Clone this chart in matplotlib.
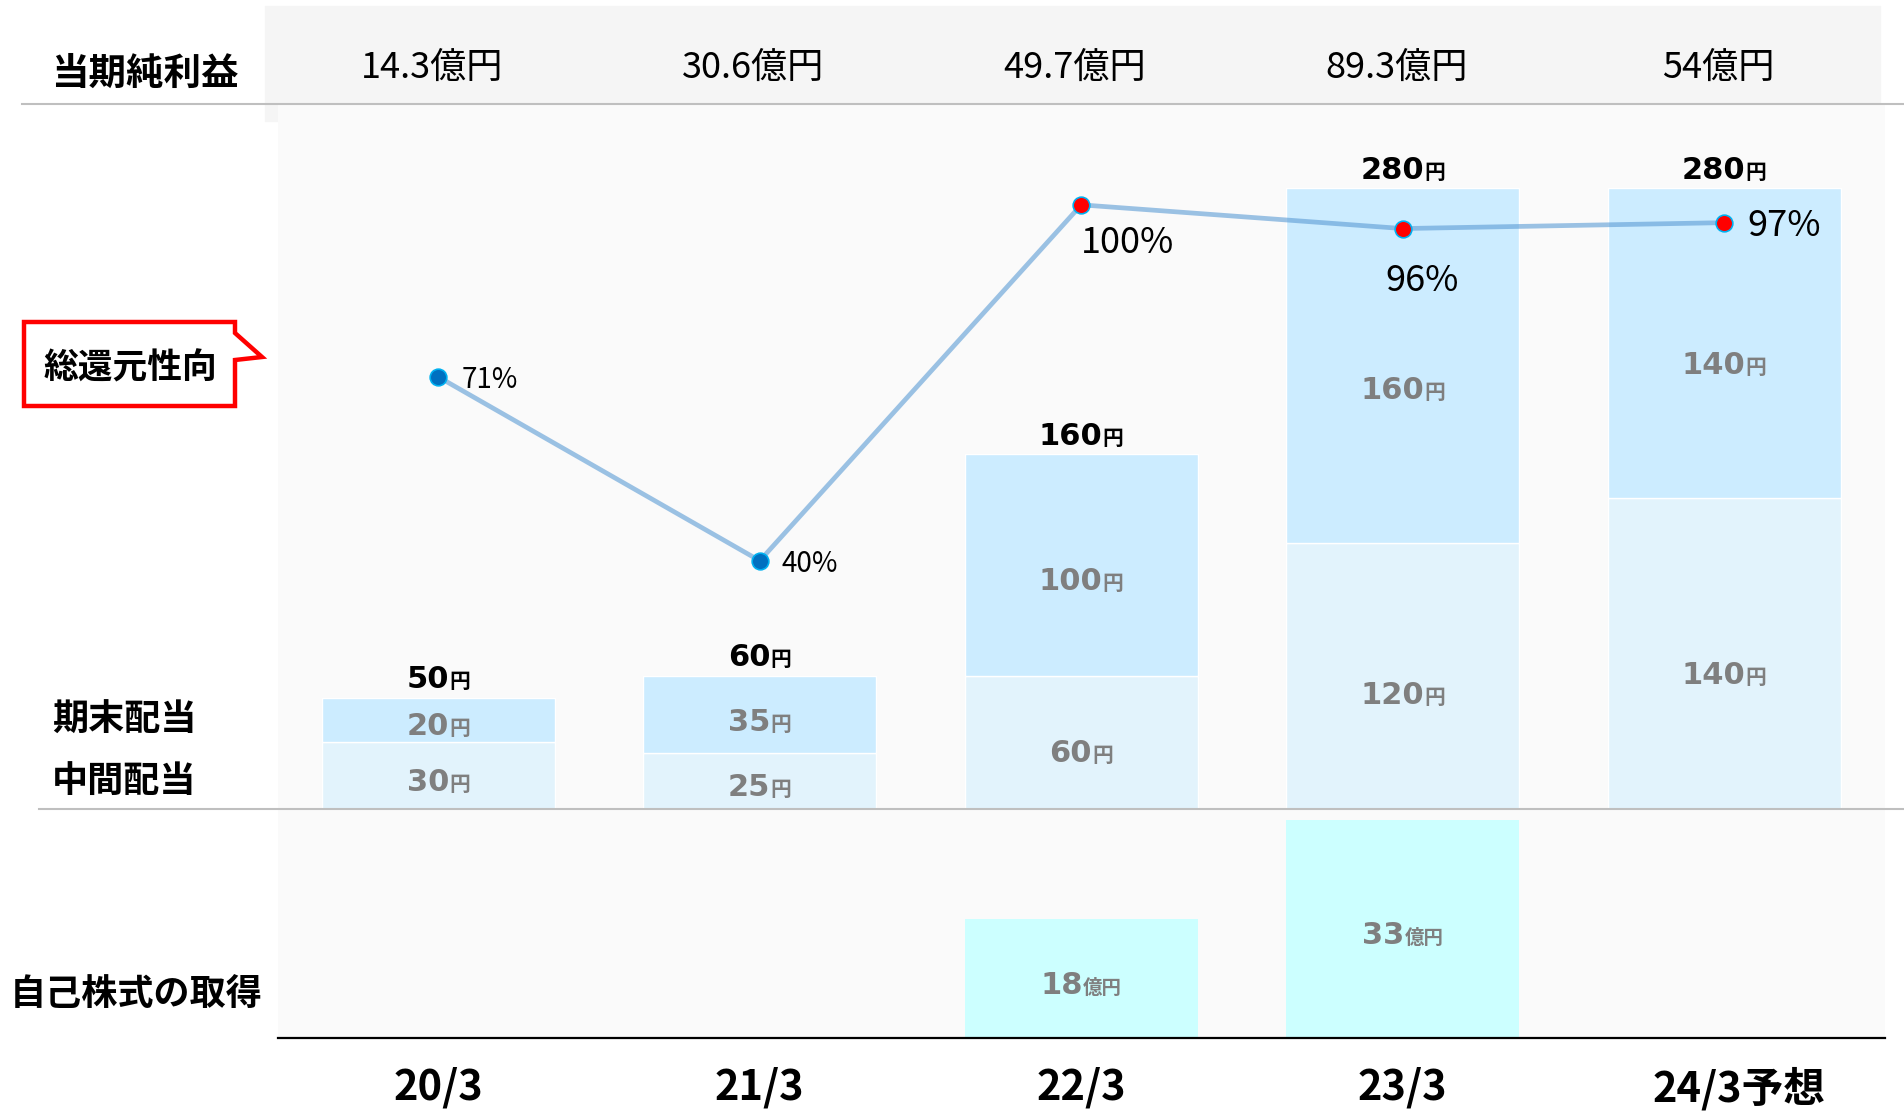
import matplotlib
matplotlib.use("Agg")
import matplotlib.pyplot as plt
import matplotlib.transforms as mtransforms
from matplotlib.lines import Line2D
from matplotlib.patches import Polygon, Rectangle
from matplotlib.offsetbox import TextArea, HPacker, AnnotationBbox
import numpy as np

# data
periods = ["20/3", "21/3", "22/3", "23/3", "24/3予想"]
net_income = [14.3, 30.6, 49.7, 89.3, 54]        # 億円
interim = [30, 25, 60, 120, 140]                 # 中間配当 (円)
year_end = [20, 35, 100, 160, 140]               # 期末配当 (円)
payout = [71, 40, 100, 96, 97]                   # 総還元性向 (%)
buyback = [None, None, 18, 33, None]             # 自己株式の取得 (億円)

CJK = "Noto Sans CJK JP"
plt.rcParams["font.family"] = [CJK, "DejaVu Sans"]

W, H = 1904, 1111
fig = plt.figure(figsize=(W / 100, H / 100), dpi=100)
fig.patch.set_facecolor("white")


def fx(px):
    return px / W


def fy(py):
    return 1 - py / H


left, right = 277.5, 1885
ax = fig.add_axes([fx(left), fy(808.7), fx(right - left), fy(104) - fy(808.7)])
axb = fig.add_axes([fx(left), fy(1038.2), fx(right - left), fy(808.7) - fy(1038.2)])
axl = ax.twinx()

# background bands
fig.patches.append(Rectangle((fx(265), fy(121)), fx(1880 - 265), fy(6) - fy(121),
                             transform=fig.transFigure, color="#F5F5F5", zorder=-2))
for a in (ax, axb):
    a.set_facecolor("#FAFAFA")
    for s in a.spines.values():
        s.set_visible(False)
    a.set_xlim(-0.5, 4.5)
    a.tick_params(left=False, labelleft=False, bottom=False, labelbottom=False)
axl.set_facecolor("none")
for s in axl.spines.values():
    s.set_visible(False)
axl.tick_params(right=False, labelright=False)

x = np.arange(len(periods))
interim = np.array(interim)
year_end = np.array(year_end)
totals = interim + year_end

ax.set_ylim(0, 318)
ax.bar(x, interim, width=0.725, color="#E2F3FC", edgecolor="white", linewidth=1)
ax.bar(x, year_end, width=0.725, bottom=interim, color="#CCECFF", edgecolor="white", linewidth=1)


def yen_label(a, xv, yv, num, unit, color, size=22, usize=15, dy=0):
    t1 = TextArea(num, textprops=dict(color=color, fontsize=size, fontweight="bold",
                                      family=["DejaVu Sans"]))
    t2 = TextArea(unit, textprops=dict(color=color, fontsize=usize, fontweight="bold",
                                       family=[CJK]))
    box = HPacker(children=[t1, t2], align="baseline", pad=0, sep=0)
    ab = AnnotationBbox(box, (xv, yv), xybox=(0, dy), xycoords="data",
                        boxcoords="offset points", box_alignment=(0.5, 0.5),
                        frameon=False, pad=0, annotation_clip=False)
    a.add_artist(ab)


for i in x:
    yen_label(ax, i, interim[i] * 0.44, str(interim[i]), "円", "#7F7F7F", dy=-2.5)
    yen_label(ax, i, interim[i] + year_end[i] * 0.44, str(year_end[i]), "円", "#7F7F7F", dy=-2.5)
    yen_label(ax, i, totals[i], str(totals[i]), "円", "black", dy=13)

# payout ratio line
axl.set_ylim(-1.8, 117)
axl.plot(x, payout, color="#5B9BD5", alpha=0.6, linewidth=3.4, zorder=3,
         solid_capstyle="round")
for i, v in enumerate(payout):
    face = "#0070C0" if i < 2 else "#FF0000"
    axl.plot(i, v, marker="o", markersize=12, markerfacecolor=face,
             markeredgecolor="#00B0F0", markeredgewidth=1.2, zorder=4)
pct_offsets = [(17, -2.5, "left", 20), (16, -2.5, "left", 20), (0, -27.5, "left", 26),
               (14, -37.5, "center", 26), (17, -2.5, "left", 26)]
for i, v in enumerate(payout):
    dx, dy, ha, fs = pct_offsets[i]
    axl.annotate(f"{v}%", (i, v), xytext=(dx, dy), textcoords="offset points",
                 ha=ha, va="center", fontsize=fs, color="black", zorder=5)

# buyback bars
axb.set_ylim(0, 34.67)
bb_vals = [b if b is not None else 0 for b in buyback]
axb.bar(x, bb_vals, width=0.725, color="#CCFFFF", linewidth=0)
for i, b in enumerate(buyback):
    if b is not None:
        yen_label(axb, i, b / 2, str(b), "億円", "#7F7F7F", size=22, usize=14, dy=-5)
axb.spines["bottom"].set_visible(True)
axb.spines["bottom"].set_color("black")
axb.spines["bottom"].set_linewidth(1.6)
axb.set_xticks(x)
axb.set_xticklabels(periods, fontsize=30, fontweight="bold")
axb.tick_params(bottom=False, labelbottom=True, pad=17)
last = axb.get_xticklabels()[-1]
last.set_transform(last.get_transform() + mtransforms.ScaledTranslation(0.15, 0, fig.dpi_scale_trans))

# net income row
blend = mtransforms.blended_transform_factory(ax.transData, fig.transFigure)
for i, v in enumerate(net_income):
    fig.text(i - 0.02, fy(68), f"{v:g}億円", transform=blend, ha="center", va="center",
             fontsize=26)

# separator lines
fig.lines.append(Line2D([fx(22), 1], [fy(104), fy(104)], transform=fig.transFigure,
                        color="#BFBFBF", linewidth=1.5))
fig.lines.append(Line2D([fx(39), 1], [fy(808.7), fy(808.7)], transform=fig.transFigure,
                        color="#BFBFBF", linewidth=1.5, zorder=5))

# row labels
fig.text(fx(145), fy(73), "当期純利益", ha="center", va="center", fontsize=27, fontweight="bold")
fig.text(fx(124), fy(720), "期末配当", ha="center", va="center", fontsize=26, fontweight="bold")
fig.text(fx(124), fy(781), "中間配当", ha="center", va="center", fontsize=26, fontweight="bold")
fig.text(fx(136), fy(994), "自己株式の取得", ha="center", va="center", fontsize=26, fontweight="bold")

# callout box for 総還元性向
pts = [(24, 322), (235, 322), (235, 333), (262, 357), (235, 360), (235, 406), (24, 406)]
fig.patches.append(Polygon([(fx(px), fy(py)) for px, py in pts], closed=True,
                           transform=fig.transFigure, facecolor="white",
                           edgecolor="#FF0000", linewidth=3.2, joinstyle="miter"))
fig.text(fx(130), fy(368), "総還元性向", ha="center", va="center", fontsize=25,
         fontweight="bold")

fig.savefig("out.png", dpi=100)
